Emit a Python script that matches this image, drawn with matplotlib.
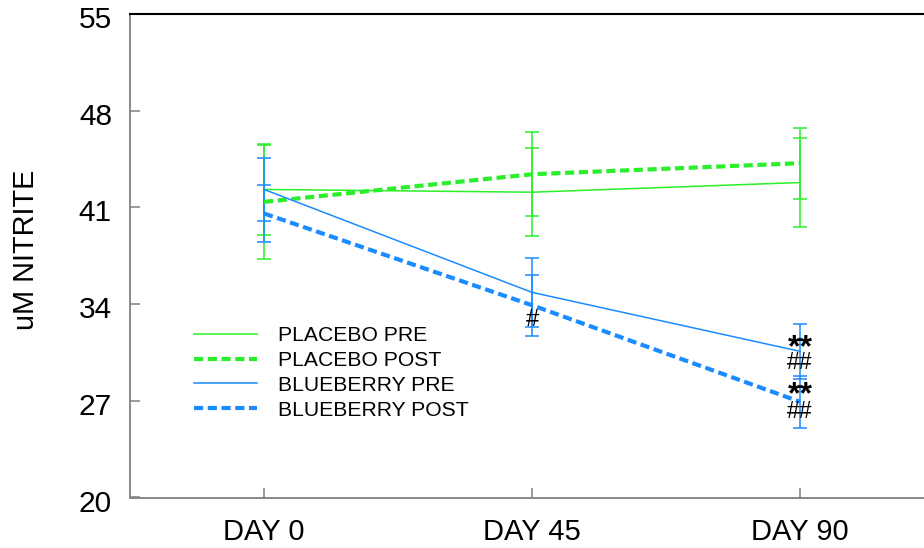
import numpy as np
import matplotlib
matplotlib.use('Agg')
import matplotlib.pyplot as plt
from matplotlib.transforms import ScaledTranslation

plt.rcParams['font.family'] = ['Liberation Sans', 'DejaVu Sans']

# データ
days = ['DAY 0', 'DAY 45', 'DAY 90']
placebo_pre = [42.3, 42.1, 42.8]
placebo_pre_err = [3.3, 3.2, 3.25]
placebo_post = [41.4, 43.4, 44.2]
placebo_post_err = [4.1, 3.05, 2.56]
blue_pre = [42.3, 34.85, 30.58]
blue_pre_err = [2.27, 2.48, 1.97]
blue_post = [40.56, 33.92, 26.93]
blue_post_err = [2.07, 2.2, 1.9]

GREEN = '#2bef2b'
BLUE = '#1a8cff'

fig = plt.figure(figsize=(9.24, 5.48), dpi=100)
ax = fig.add_axes([130/924, 50.5/548, 804/924, 483.5/548])

x = np.arange(len(days))
series = [
    (placebo_pre, placebo_pre_err, GREEN, '-', 1.1, 'PLACEBO PRE'),
    (placebo_post, placebo_post_err, GREEN, '--', 3.0, 'PLACEBO POST'),
    (blue_pre, blue_pre_err, BLUE, '-', 1.1, 'BLUEBERRY PRE'),
    (blue_post, blue_post_err, BLUE, '--', 3.0, 'BLUEBERRY POST'),
]
handles = []
labels = []
for vals, err, col, ls, lw, lab in series:
    c = ax.errorbar(x, vals, yerr=err, color=col, ecolor=col, elinewidth=1.1,
                    capsize=4.8, capthick=1.1, lw=lw)
    ln = c.lines[0]
    if ls == '--':
        ln.set_linestyle((0, (2.2, 1.1)))
    handles.append(ln)
    labels.append(lab)

# 有意差の記号
ax.annotate('#', (1, blue_post[1]), xytext=(0, -11), textcoords='offset points',
            ha='center', va='center', fontsize=17)
ax.annotate('**', (2, blue_pre[2]), xytext=(0, 2.5), textcoords='offset points',
            ha='center', va='center', fontsize=23, fontweight='bold')
ax.annotate('##', (2, blue_pre[2]), xytext=(0, -8), textcoords='offset points',
            ha='center', va='center', fontsize=16.5)
ax.annotate('**', (2, blue_post[2]), xytext=(0, 4.5), textcoords='offset points',
            ha='center', va='center', fontsize=23, fontweight='bold')
ax.annotate('##', (2, blue_post[2]), xytext=(0, -7), textcoords='offset points',
            ha='center', va='center', fontsize=16.5)

ax.set_xlim(-0.5, 2.5)
ax.set_ylim(20, 55)
ax.set_xticks(x)
ax.set_xticklabels(days)
ax.set_yticks([20, 27, 34, 41, 48, 55])
ax.tick_params(axis='both', direction='in', length=7, width=1.1, color='#808080')
ax.tick_params(axis='x', pad=15, labelsize=21)
ax.tick_params(axis='y', pad=13, labelsize=21.5)
for t in ax.get_yticklabels():
    t.set_transform(t.get_transform() + ScaledTranslation(0, -3/100, fig.dpi_scale_trans))

for s in ['left', 'bottom']:
    ax.spines[s].set_color('#808080')
    ax.spines[s].set_linewidth(1.3)
ax.spines['top'].set_color('black')
ax.spines['top'].set_linewidth(1.5)
ax.spines['right'].set_visible(False)

fig.text(26/924, 1 - 250/548, 'uM NITRITE', rotation=90, ha='center', va='center',
         fontsize=20.8)

ax.legend(handles, labels, loc='upper left', bbox_to_anchor=(194/924, 1 - 326/548),
          bbox_transform=fig.transFigure, frameon=False, fontsize=15.2,
          handlelength=3.0, handletextpad=1.0, labelspacing=0.28,
          borderpad=0, borderaxespad=0)

fig.savefig('out.png', dpi=100)
